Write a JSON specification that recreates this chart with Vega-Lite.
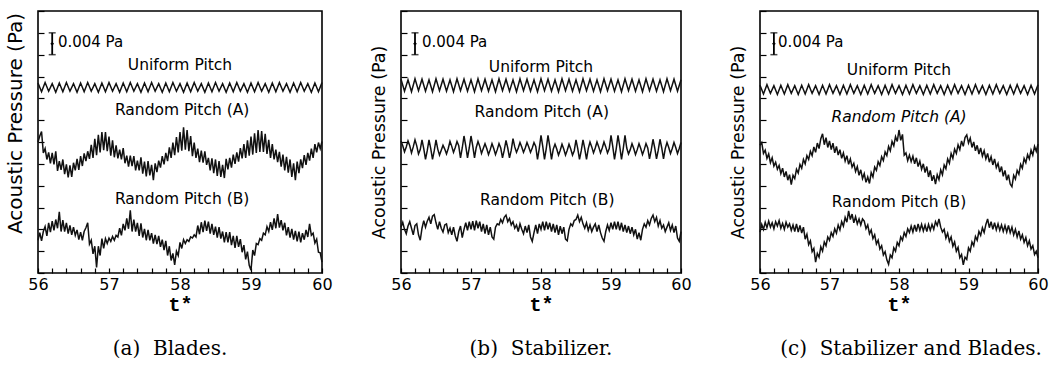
{
"$schema":"https://vega.github.io/schema/vega-lite/v6.json",
"background":"white",
"padding":{"left":4,"top":9,"right":2,"bottom":0},
"spacing":79,
"bounds":"flush",
"datasets":{
"uni":[
{"t":56,"au":34.8,"bu":35.5,"cu":34.4},{"t":56.05,"au":33.2,"bu":33.3,"cu":32.8},{"t":56.1,"au":34.9,"bu":35.4,"cu":34.5},{"t":56.15,"au":33.3,"bu":33.2,"cu":32.9},{"t":56.2,"au":34.7,"bu":35.6,"cu":34.3},{"t":56.25,"au":33.1,"bu":33.4,"cu":32.7},
{"t":56.3,"au":34.8,"bu":35.5,"cu":34.4},{"t":56.35,"au":33.2,"bu":33.3,"cu":32.8},{"t":56.4,"au":34.9,"bu":35.4,"cu":34.5},{"t":56.45,"au":33.3,"bu":33.2,"cu":32.9},{"t":56.5,"au":34.7,"bu":35.6,"cu":34.3},{"t":56.55,"au":33.1,"bu":33.4,"cu":32.7},
{"t":56.6,"au":34.8,"bu":35.5,"cu":34.4},{"t":56.65,"au":33.2,"bu":33.3,"cu":32.8},{"t":56.7,"au":34.9,"bu":35.4,"cu":34.5},{"t":56.75,"au":33.3,"bu":33.2,"cu":32.9},{"t":56.8,"au":34.7,"bu":35.6,"cu":34.3},{"t":56.85,"au":33.1,"bu":33.4,"cu":32.7},
{"t":56.9,"au":34.8,"bu":35.5,"cu":34.4},{"t":56.95,"au":33.2,"bu":33.3,"cu":32.8},{"t":57,"au":34.9,"bu":35.4,"cu":34.5},{"t":57.05,"au":33.3,"bu":33.2,"cu":32.9},{"t":57.1,"au":34.7,"bu":35.6,"cu":34.3},{"t":57.15,"au":33.1,"bu":33.4,"cu":32.7},
{"t":57.2,"au":34.8,"bu":35.5,"cu":34.4},{"t":57.25,"au":33.2,"bu":33.3,"cu":32.8},{"t":57.3,"au":34.9,"bu":35.4,"cu":34.5},{"t":57.35,"au":33.3,"bu":33.2,"cu":32.9},{"t":57.4,"au":34.7,"bu":35.6,"cu":34.3},{"t":57.45,"au":33.1,"bu":33.4,"cu":32.7},
{"t":57.5,"au":34.8,"bu":35.5,"cu":34.4},{"t":57.55,"au":33.2,"bu":33.3,"cu":32.8},{"t":57.6,"au":34.9,"bu":35.4,"cu":34.5},{"t":57.65,"au":33.3,"bu":33.2,"cu":32.9},{"t":57.7,"au":34.7,"bu":35.6,"cu":34.3},{"t":57.75,"au":33.1,"bu":33.4,"cu":32.7},
{"t":57.8,"au":34.8,"bu":35.5,"cu":34.4},{"t":57.85,"au":33.2,"bu":33.3,"cu":32.8},{"t":57.9,"au":34.9,"bu":35.4,"cu":34.5},{"t":57.95,"au":33.3,"bu":33.2,"cu":32.9},{"t":58,"au":34.7,"bu":35.6,"cu":34.3},{"t":58.05,"au":33.1,"bu":33.4,"cu":32.7},
{"t":58.1,"au":34.8,"bu":35.5,"cu":34.4},{"t":58.15,"au":33.2,"bu":33.3,"cu":32.8},{"t":58.2,"au":34.9,"bu":35.4,"cu":34.5},{"t":58.25,"au":33.3,"bu":33.2,"cu":32.9},{"t":58.3,"au":34.7,"bu":35.6,"cu":34.3},{"t":58.35,"au":33.1,"bu":33.4,"cu":32.7},
{"t":58.4,"au":34.8,"bu":35.5,"cu":34.4},{"t":58.45,"au":33.2,"bu":33.3,"cu":32.8},{"t":58.5,"au":34.9,"bu":35.4,"cu":34.5},{"t":58.55,"au":33.3,"bu":33.2,"cu":32.9},{"t":58.6,"au":34.7,"bu":35.6,"cu":34.3},{"t":58.65,"au":33.1,"bu":33.4,"cu":32.7},
{"t":58.7,"au":34.8,"bu":35.5,"cu":34.4},{"t":58.75,"au":33.2,"bu":33.3,"cu":32.8},{"t":58.8,"au":34.9,"bu":35.4,"cu":34.5},{"t":58.85,"au":33.3,"bu":33.2,"cu":32.9},{"t":58.9,"au":34.7,"bu":35.6,"cu":34.3},{"t":58.95,"au":33.1,"bu":33.4,"cu":32.7},
{"t":59,"au":34.8,"bu":35.5,"cu":34.4},{"t":59.05,"au":33.2,"bu":33.3,"cu":32.8},{"t":59.1,"au":34.9,"bu":35.4,"cu":34.5},{"t":59.15,"au":33.3,"bu":33.2,"cu":32.9},{"t":59.2,"au":34.7,"bu":35.6,"cu":34.3},{"t":59.25,"au":33.1,"bu":33.4,"cu":32.7},
{"t":59.3,"au":34.8,"bu":35.5,"cu":34.4},{"t":59.35,"au":33.2,"bu":33.3,"cu":32.8},{"t":59.4,"au":34.9,"bu":35.4,"cu":34.5},{"t":59.45,"au":33.3,"bu":33.2,"cu":32.9},{"t":59.5,"au":34.7,"bu":35.6,"cu":34.3},{"t":59.55,"au":33.1,"bu":33.4,"cu":32.7},
{"t":59.6,"au":34.8,"bu":35.5,"cu":34.4},{"t":59.65,"au":33.2,"bu":33.3,"cu":32.8},{"t":59.7,"au":34.9,"bu":35.4,"cu":34.5},{"t":59.75,"au":33.3,"bu":33.2,"cu":32.9},{"t":59.8,"au":34.7,"bu":35.6,"cu":34.3},{"t":59.85,"au":33.1,"bu":33.4,"cu":32.7},
{"t":59.9,"au":34.8,"bu":35.5,"cu":34.4},{"t":59.95,"au":33.2,"bu":33.3,"cu":32.8},{"t":60,"au":34.9,"bu":35.4,"cu":34.5}
],
"rnd":[
{"t":56,"aA":24.0,"aB":6.0,"bA":24.2,"bB":8.4,"cA":23.4,"cB":7.5},
{"t":56.025,"aA":25.1,"aB":7.4,"bA":23.3,"bB":9.3,"cA":23.9,"cB":8.9},
{"t":56.05,"aA":25.9,"aB":5.9,"bA":22.2,"bB":8.0,"cA":21.9,"cB":8.0},
{"t":56.075,"aA":22.0,"aB":7.6,"bA":23.1,"bB":7.2,"cA":22.5,"cB":9.3},
{"t":56.1,"aA":22.8,"aB":8.5,"bA":24.2,"bB":8.6,"cA":21.0,"cB":8.3},
{"t":56.125,"aA":20.8,"aB":6.8,"bA":23.3,"bB":9.4,"cA":21.8,"cB":9.5},
{"t":56.15,"aA":22.1,"aB":9.2,"bA":22.0,"bB":8.2,"cA":20.2,"cB":8.4},
{"t":56.175,"aA":20.1,"aB":7.5,"bA":23.1,"bB":7.0,"cA":21.1,"cB":9.2},
{"t":56.2,"aA":22.0,"aB":9.5,"bA":24.4,"bB":8.7,"cA":19.6,"cB":8.1},
{"t":56.225,"aA":19.9,"aB":7.8,"bA":23.3,"bB":9.0,"cA":20.3,"cB":9.4},
{"t":56.25,"aA":22.3,"aB":9.8,"bA":21.8,"bB":7.0,"cA":19.0,"cB":8.6},
{"t":56.275,"aA":18.7,"aB":8.2,"bA":22.6,"bB":6.0,"cA":19.7,"cB":9.6},
{"t":56.3,"aA":20.5,"aB":11.2,"bA":24.4,"bB":8.2,"cA":18.2,"cB":8.2},
{"t":56.325,"aA":18.9,"aB":7.6,"bA":22.8,"bB":9.6,"cA":19.2,"cB":9.1},
{"t":56.35,"aA":20.8,"aB":9.7,"bA":20.8,"bB":8.4,"cA":17.6,"cB":8.0},
{"t":56.375,"aA":18.1,"aB":7.6,"bA":22.4,"bB":9.5,"cA":18.6,"cB":9.3},
{"t":56.4,"aA":19.9,"aB":9.2,"bA":24.4,"bB":10.2,"cA":17.0,"cB":8.4},
{"t":56.425,"aA":17.5,"aB":7.2,"bA":22.8,"bB":9.0,"cA":18.0,"cB":9.0},
{"t":56.45,"aA":19.7,"aB":8.7,"bA":20.8,"bB":10.4,"cA":16.2,"cB":7.8},
{"t":56.475,"aA":17.6,"aB":7.0,"bA":22.4,"bB":10.7,"cA":17.9,"cB":8.8},
{"t":56.5,"aA":20.2,"aB":8.4,"bA":24.4,"bB":9.2,"cA":17.3,"cB":7.6},
{"t":56.525,"aA":18.8,"aB":6.9,"bA":22.7,"bB":8.0,"cA":19.0,"cB":9.0},
{"t":56.55,"aA":20.9,"aB":7.9,"bA":21.6,"bB":9.4,"cA":18.3,"cB":7.5},
{"t":56.575,"aA":18.9,"aB":6.1,"bA":22.5,"bB":8.2,"cA":19.9,"cB":8.7},
{"t":56.6,"aA":21.4,"aB":7.5,"bA":23.4,"bB":7.5,"cA":19.2,"cB":7.3},
{"t":56.625,"aA":19.6,"aB":6.0,"bA":22.7,"bB":8.8,"cA":20.8,"cB":8.4},
{"t":56.65,"aA":21.9,"aB":7.6,"bA":21.8,"bB":9.0,"cA":20.0,"cB":6.2},
{"t":56.675,"aA":20.5,"aB":8.3,"bA":22.8,"bB":7.4,"cA":21.5,"cB":7.1},
{"t":56.7,"aA":22.3,"aB":9.2,"bA":24.1,"bB":8.2,"cA":20.8,"cB":5.2},
{"t":56.725,"aA":20.9,"aB":5.3,"bA":23.2,"bB":7.0,"cA":22.3,"cB":5.9},
{"t":56.75,"aA":23.5,"aB":6.0,"bA":22.1,"bB":8.4,"cA":21.5,"cB":3.9},
{"t":56.775,"aA":21.1,"aB":3.5,"bA":23.0,"bB":6.8,"cA":23.1,"cB":4.5},
{"t":56.8,"aA":24.6,"aB":4.9,"bA":24.1,"bB":5.8,"cA":22.1,"cB":2.0},
{"t":56.825,"aA":21.6,"aB":1.0,"bA":23.3,"bB":7.6,"cA":23.8,"cB":3.6},
{"t":56.85,"aA":25.3,"aB":4.9,"bA":21.1,"bB":8.6,"cA":22.8,"cB":2.9},
{"t":56.875,"aA":22.1,"aB":3.2,"bA":22.9,"bB":6.5,"cA":24.6,"cB":4.8},
{"t":56.9,"aA":25.8,"aB":6.3,"bA":25.1,"bB":8.0,"cA":25.5,"cB":4.0},
{"t":56.925,"aA":22.5,"aB":4.5,"bA":23.3,"bB":9.2,"cA":23.5,"cB":5.7},
{"t":56.95,"aA":25.8,"aB":6.3,"bA":21.1,"bB":7.8,"cA":24.8,"cB":5.0},
{"t":56.975,"aA":22.3,"aB":5.4,"bA":22.9,"bB":9.4,"cA":23.0,"cB":6.6},
{"t":57,"aA":25.0,"aB":6.4,"bA":25.1,"bB":8.0,"cA":24.2,"cB":6.0},
{"t":57.025,"aA":21.5,"aB":5.8,"bA":23.3,"bB":9.5,"cA":22.6,"cB":7.4},
{"t":57.05,"aA":24.3,"aB":6.7,"bA":21.1,"bB":7.8,"cA":23.8,"cB":6.7},
{"t":57.075,"aA":21.2,"aB":6.0,"bA":23.0,"bB":9.6,"cA":22.0,"cB":8.1},
{"t":57.1,"aA":23.4,"aB":6.9,"bA":24.1,"bB":8.2,"cA":23.2,"cB":7.3},
{"t":57.125,"aA":21.0,"aB":6.6,"bA":23.2,"bB":9.4,"cA":21.6,"cB":8.8},
{"t":57.15,"aA":22.6,"aB":8.2,"bA":21.9,"bB":7.6,"cA":22.6,"cB":7.9},
{"t":57.175,"aA":20.8,"aB":6.9,"bA":22.8,"bB":9.0,"cA":21.0,"cB":9.4},
{"t":57.2,"aA":22.9,"aB":9.0,"bA":23.7,"bB":7.2,"cA":22.0,"cB":8.6},
{"t":57.225,"aA":20.1,"aB":7.8,"bA":22.8,"bB":8.8,"cA":20.5,"cB":10.2},
{"t":57.25,"aA":21.5,"aB":10.0,"bA":21.7,"bB":7.0,"cA":21.5,"cB":9.3},
{"t":57.275,"aA":19.5,"aB":8.1,"bA":22.6,"bB":8.4,"cA":19.9,"cB":11.4},
{"t":57.3,"aA":21.5,"aB":11.5,"bA":23.7,"bB":6.6,"cA":20.9,"cB":9.8},
{"t":57.325,"aA":19.6,"aB":7.6,"bA":22.8,"bB":6.2,"cA":19.4,"cB":10.8},
{"t":57.35,"aA":21.4,"aB":9.8,"bA":21.7,"bB":8.4,"cA":20.1,"cB":9.2},
{"t":57.375,"aA":18.8,"aB":7.6,"bA":22.6,"bB":9.0,"cA":18.6,"cB":10.3},
{"t":57.4,"aA":20.6,"aB":9.2,"bA":23.7,"bB":8.8,"cA":19.5,"cB":9.0},
{"t":57.425,"aA":18.8,"aB":6.8,"bA":22.9,"bB":9.8,"cA":17.9,"cB":9.9},
{"t":57.45,"aA":21.2,"aB":9.1,"bA":21.1,"bB":9.2,"cA":18.9,"cB":8.8},
{"t":57.475,"aA":18.2,"aB":6.5,"bA":22.5,"bB":10.2,"cA":17.3,"cB":9.9},
{"t":57.5,"aA":20.4,"aB":8.1,"bA":24.3,"bB":10.6,"cA":18.2,"cB":9.5},
{"t":57.525,"aA":17.7,"aB":6.0,"bA":22.9,"bB":9.4,"cA":16.6,"cB":8.1},
{"t":57.55,"aA":20.5,"aB":7.9,"bA":21.1,"bB":10.0,"cA":17.6,"cB":8.8},
{"t":57.575,"aA":17.9,"aB":6.0,"bA":22.5,"bB":8.8,"cA":16.4,"cB":7.2},
{"t":57.6,"aA":19.8,"aB":7.3,"bA":24.6,"bB":9.4,"cA":18.4,"cB":7.9},
{"t":57.625,"aA":17.0,"aB":5.4,"bA":23.1,"bB":8.2,"cA":17.6,"cB":6.3},
{"t":57.65,"aA":20.1,"aB":7.0,"bA":22.1,"bB":8.8,"cA":19.4,"cB":7.0},
{"t":57.675,"aA":18.5,"aB":5.3,"bA":22.9,"bB":7.6,"cA":18.8,"cB":5.3},
{"t":57.7,"aA":20.6,"aB":6.8,"bA":23.9,"bB":9.0,"cA":20.4,"cB":6.0},
{"t":57.725,"aA":19.3,"aB":4.8,"bA":23.1,"bB":8.0,"cA":19.7,"cB":4.4},
{"t":57.75,"aA":21.4,"aB":6.1,"bA":22.1,"bB":7.2,"cA":21.3,"cB":5.0},
{"t":57.775,"aA":19.9,"aB":4.2,"bA":22.9,"bB":8.6,"cA":20.6,"cB":3.3},
{"t":57.8,"aA":22.0,"aB":5.9,"bA":23.9,"bB":7.4,"cA":22.2,"cB":3.9},
{"t":57.825,"aA":20.5,"aB":3.2,"bA":23.1,"bB":8.8,"cA":21.5,"cB":2.4},
{"t":57.85,"aA":23.0,"aB":4.9,"bA":22.1,"bB":6.6,"cA":23.2,"cB":1.6},
{"t":57.875,"aA":21.1,"aB":2.3,"bA":22.9,"bB":5.8,"cA":22.4,"cB":3.3},
{"t":57.9,"aA":23.9,"aB":3.6,"bA":23.9,"bB":7.4,"cA":24.1,"cB":2.8},
{"t":57.925,"aA":21.6,"aB":1.5,"bA":23.2,"bB":8.8,"cA":23.3,"cB":4.6},
{"t":57.95,"aA":24.9,"aB":4.0,"bA":20.8,"bB":7.2,"cA":25.0,"cB":4.0},
{"t":57.975,"aA":22.1,"aB":3.2,"bA":22.8,"bB":9.0,"cA":24.1,"cB":5.6},
{"t":58,"aA":25.8,"aB":5.6,"bA":25.2,"bB":8.0,"cA":26.2,"cB":5.0},
{"t":58.025,"aA":22.4,"aB":4.5,"bA":23.2,"bB":9.4,"cA":24.3,"cB":6.6},
{"t":58.05,"aA":26.7,"aB":6.1,"bA":20.8,"bB":7.8,"cA":25.4,"cB":6.0},
{"t":58.075,"aA":22.6,"aB":5.4,"bA":22.8,"bB":9.4,"cA":21.6,"cB":7.4},
{"t":58.1,"aA":26.2,"aB":6.1,"bA":25.2,"bB":8.0,"cA":22.0,"cB":6.7},
{"t":58.125,"aA":22.3,"aB":5.8,"bA":23.2,"bB":9.2,"cA":20.6,"cB":8.1},
{"t":58.15,"aA":25.1,"aB":6.6,"bA":20.8,"bB":7.6,"cA":21.6,"cB":7.4},
{"t":58.175,"aA":21.4,"aB":6.4,"bA":22.7,"bB":9.0,"cA":20.4,"cB":8.6},
{"t":58.2,"aA":23.9,"aB":7.0,"bA":23.6,"bB":7.4,"cA":21.4,"cB":7.5},
{"t":58.225,"aA":21.1,"aB":6.6,"bA":22.7,"bB":8.8,"cA":20.0,"cB":8.8},
{"t":58.25,"aA":22.8,"aB":8.7,"bA":21.6,"bB":7.0,"cA":21.1,"cB":7.6},
{"t":58.275,"aA":20.3,"aB":7.1,"bA":22.5,"bB":8.6,"cA":19.5,"cB":9.0},
{"t":58.3,"aA":22.4,"aB":9.3,"bA":23.6,"bB":7.2,"cA":20.5,"cB":7.8},
{"t":58.325,"aA":20.2,"aB":7.5,"bA":22.7,"bB":8.4,"cA":19.0,"cB":8.9},
{"t":58.35,"aA":22.3,"aB":9.6,"bA":21.6,"bB":6.2,"cA":20.0,"cB":7.7},
{"t":58.375,"aA":19.8,"aB":7.7,"bA":22.5,"bB":5.9,"cA":18.4,"cB":8.8},
{"t":58.4,"aA":21.1,"aB":9.4,"bA":23.6,"bB":8.0,"cA":19.5,"cB":7.6},
{"t":58.425,"aA":18.8,"aB":7.2,"bA":22.7,"bB":9.0,"cA":17.6,"cB":8.9},
{"t":58.45,"aA":21.0,"aB":9.0,"bA":21.6,"bB":8.6,"cA":18.8,"cB":7.8},
{"t":58.475,"aA":18.3,"aB":7.0,"bA":22.4,"bB":9.6,"cA":16.9,"cB":8.9},
{"t":58.5,"aA":20.8,"aB":8.5,"bA":24.4,"bB":9.8,"cA":17.9,"cB":8.0},
{"t":58.525,"aA":17.8,"aB":6.5,"bA":22.8,"bB":10.6,"cA":16.3,"cB":9.4},
{"t":58.55,"aA":20.5,"aB":8.4,"bA":20.8,"bB":9.4,"cA":18.0,"cB":8.7},
{"t":58.575,"aA":17.6,"aB":6.3,"bA":22.4,"bB":10.2,"cA":17.1,"cB":9.9},
{"t":58.6,"aA":19.8,"aB":7.6,"bA":24.4,"bB":9.0,"cA":18.9,"cB":8.4},
{"t":58.625,"aA":17.4,"aB":5.6,"bA":22.8,"bB":8.2,"cA":18.0,"cB":7.5},
{"t":58.65,"aA":20.9,"aB":7.5,"bA":20.8,"bB":9.2,"cA":19.8,"cB":8.0},
{"t":58.675,"aA":19.0,"aB":5.6,"bA":22.8,"bB":7.8,"cA":19.1,"cB":6.4},
{"t":58.7,"aA":21.1,"aB":7.5,"bA":24.0,"bB":8.8,"cA":20.9,"cB":7.3},
{"t":58.725,"aA":19.3,"aB":5.1,"bA":23.1,"bB":7.6,"cA":20.1,"cB":5.8},
{"t":58.75,"aA":21.7,"aB":6.8,"bA":22.0,"bB":8.4,"cA":21.9,"cB":6.6},
{"t":58.775,"aA":20.0,"aB":4.6,"bA":22.9,"bB":9.0,"cA":21.0,"cB":4.9},
{"t":58.8,"aA":22.1,"aB":6.8,"bA":24.0,"bB":7.6,"cA":22.7,"cB":5.7},
{"t":58.825,"aA":20.4,"aB":4.8,"bA":23.1,"bB":8.8,"cA":21.9,"cB":4.0},
{"t":58.85,"aA":22.9,"aB":6.2,"bA":22.0,"bB":7.4,"cA":23.5,"cB":4.7},
{"t":58.875,"aA":21.0,"aB":3.8,"bA":22.9,"bB":6.4,"cA":22.6,"cB":2.8},
{"t":58.9,"aA":23.6,"aB":5.1,"bA":24.0,"bB":5.8,"cA":24.2,"cB":3.4},
{"t":58.925,"aA":21.1,"aB":2.5,"bA":23.1,"bB":7.6,"cA":23.2,"cB":1.5},
{"t":58.95,"aA":24.3,"aB":3.9,"bA":22.0,"bB":8.8,"cA":24.8,"cB":2.9},
{"t":58.975,"aA":21.5,"aB":1.4,"bA":22.8,"bB":7.8,"cA":25.3,"cB":2.5},
{"t":59,"aA":25.0,"aB":0.5,"bA":25.2,"bB":9.2,"cA":23.8,"cB":4.6},
{"t":59.025,"aA":21.7,"aB":4.2,"bA":23.2,"bB":8.0,"cA":24.7,"cB":4.0},
{"t":59.05,"aA":25.6,"aB":3.2,"bA":20.8,"bB":9.4,"cA":23.0,"cB":5.7},
{"t":59.075,"aA":22.0,"aB":5.4,"bA":22.8,"bB":8.0,"cA":24.0,"cB":5.0},
{"t":59.1,"aA":26.2,"aB":5.2,"bA":25.2,"bB":9.4,"cA":22.4,"cB":6.7},
{"t":59.125,"aA":22.2,"aB":6.3,"bA":23.2,"bB":7.8,"cA":23.4,"cB":6.0},
{"t":59.15,"aA":26.0,"aB":6.0,"bA":20.8,"bB":9.2,"cA":21.8,"cB":7.6},
{"t":59.175,"aA":22.2,"aB":7.3,"bA":22.8,"bB":7.6,"cA":22.9,"cB":6.9},
{"t":59.2,"aA":25.5,"aB":7.0,"bA":25.2,"bB":8.8,"cA":21.4,"cB":8.3},
{"t":59.225,"aA":21.8,"aB":8.5,"bA":22.9,"bB":7.4,"cA":22.4,"cB":7.4},
{"t":59.25,"aA":24.4,"aB":7.6,"bA":21.8,"bB":8.6,"cA":20.9,"cB":8.9},
{"t":59.275,"aA":21.1,"aB":9.3,"bA":22.6,"bB":7.2,"cA":21.9,"cB":9.9},
{"t":59.3,"aA":23.6,"aB":7.9,"bA":23.7,"bB":8.4,"cA":20.3,"cB":8.3},
{"t":59.325,"aA":20.8,"aB":10.0,"bA":22.8,"bB":7.0,"cA":21.3,"cB":9.4},
{"t":59.35,"aA":22.6,"aB":8.2,"bA":21.7,"bB":8.0,"cA":19.8,"cB":8.0},
{"t":59.375,"aA":20.3,"aB":10.8,"bA":22.6,"bB":6.2,"cA":20.9,"cB":9.2},
{"t":59.4,"aA":22.2,"aB":8.3,"bA":23.7,"bB":7.4,"cA":19.3,"cB":7.9},
{"t":59.425,"aA":19.5,"aB":9.7,"bA":22.8,"bB":6.0,"cA":20.1,"cB":9.0},
{"t":59.45,"aA":21.7,"aB":7.8,"bA":21.7,"bB":8.0,"cA":18.5,"cB":7.8},
{"t":59.475,"aA":18.8,"aB":9.2,"bA":22.6,"bB":9.0,"cA":19.5,"cB":8.8},
{"t":59.5,"aA":21.3,"aB":6.9,"bA":23.7,"bB":8.4,"cA":17.7,"cB":7.6},
{"t":59.525,"aA":18.4,"aB":8.4,"bA":22.9,"bB":9.6,"cA":18.8,"cB":8.7},
{"t":59.55,"aA":20.8,"aB":6.5,"bA":20.9,"bB":8.8,"cA":17.0,"cB":7.5},
{"t":59.575,"aA":17.6,"aB":8.1,"bA":22.5,"bB":10.0,"cA":18.0,"cB":8.7},
{"t":59.6,"aA":20.1,"aB":6.1,"bA":24.5,"bB":10.6,"cA":16.3,"cB":7.4},
{"t":59.625,"aA":17.0,"aB":7.7,"bA":22.9,"bB":9.4,"cA":15.8,"cB":8.4},
{"t":59.65,"aA":20.4,"aB":5.8,"bA":20.9,"bB":10.2,"cA":17.9,"cB":7.0},
{"t":59.675,"aA":18.3,"aB":7.6,"bA":22.5,"bB":8.6,"cA":17.2,"cB":8.0},
{"t":59.7,"aA":20.8,"aB":5.6,"bA":24.5,"bB":9.6,"cA":18.8,"cB":6.6},
{"t":59.725,"aA":19.2,"aB":7.3,"bA":22.9,"bB":8.2,"cA":18.1,"cB":7.7},
{"t":59.75,"aA":21.6,"aB":6.1,"bA":20.9,"bB":8.8,"cA":19.9,"cB":6.2},
{"t":59.775,"aA":19.8,"aB":7.9,"bA":22.8,"bB":7.6,"cA":19.2,"cB":7.0},
{"t":59.8,"aA":22.0,"aB":6.6,"bA":23.9,"bB":8.4,"cA":21.0,"cB":5.6},
{"t":59.825,"aA":20.6,"aB":9.0,"bA":23.0,"bB":9.2,"cA":20.2,"cB":6.5},
{"t":59.85,"aA":22.8,"aB":6.9,"bA":21.9,"bB":7.8,"cA":21.7,"cB":5.0},
{"t":59.875,"aA":21.1,"aB":7.3,"bA":22.8,"bB":8.8,"cA":20.9,"cB":5.9},
{"t":59.9,"aA":23.6,"aB":5.5,"bA":23.9,"bB":7.4,"cA":22.5,"cB":4.4},
{"t":59.925,"aA":22.1,"aB":6.2,"bA":23.0,"bB":8.6,"cA":21.6,"cB":5.0},
{"t":59.95,"aA":23.9,"aB":3.8,"bA":21.9,"bB":6.4,"cA":23.2,"cB":3.4},
{"t":59.975,"aA":22.8,"aB":3.7,"bA":22.8,"bB":5.8,"cA":22.3,"cB":4.0},
{"t":60,"aA":24.1,"aB":2.0,"bA":23.9,"bB":7.6,"cA":23.6,"cB":2.8}
]
},
"config":{
"font":"DejaVu Sans",
"view":{"stroke":"black","strokeWidth":1.6},
"axis":{"grid":false,"domain":false,"tickColor":"black","tickWidth":1.2,"labelColor":"black","titleColor":"black"},
"axisX":{"tickSize":-5,"labelPadding":8,"labelFont":"DejaVu Sans","labelFontSize":16,"labelFlush":false,"labelOverlap":false,"format":"d","titleFont":"Liberation Mono","titleFontSize":20,"titleFontWeight":"bold","titlePadding":2},
"axisY":{"tickSize":-6,"labels":false,"titleFont":"DejaVu Sans","titleFontSize":17.5,"titleFontWeight":"normal","titlePadding":12},
"title":{"font":"DejaVu Serif","fontSize":20,"fontWeight":"normal","color":"black","orient":"bottom","frame":"group","anchor":"middle","offset":25}
},
"hconcat":[
{
"width":284,"height":262,
"title":{"text":"(a)\u00a0\u00a0Blades.","dx":-10},
"encoding":{
"x":{"field":"t","type":"quantitative","scale":{"domain":[56,60],"nice":false},"axis":{"values":[56,56.2,56.4,56.6,56.8,57,57.2,57.4,57.6,57.8,58,58.2,58.4,58.6,58.8,59,59.2,59.4,59.6,59.8,60],"labelExpr":"datum.value % 1 === 0 ? datum.label : ''","title":"t*"}},
"y":{"field":"v","type":"quantitative","scale":{"domain":[0,48],"nice":false,"zero":false},"axis":{"values":[0,4,8,12,16,20,24,28,32,36,40,44,48],"title":"Acoustic Pressure (Pa)","titleFontSize":20,"titleY":112}}
},
"layer":[
{"data":{"name":"uni"},"transform":[{"fold":["au"],"as":["s","v"]}],"mark":{"type":"line","color":"#111","strokeWidth":1.5},"encoding":{"detail":{"field":"s"}}},
{"data":{"name":"rnd"},"transform":[{"fold":["aA","aB"],"as":["s","v"]}],"mark":{"type":"line","color":"#111","strokeWidth":1.5},"encoding":{"detail":{"field":"s"}}},
{"data":{"values":[{"t":56.2,"v":40,"v2":44}]},"mark":{"type":"rule","color":"black","strokeWidth":1.8},"encoding":{"y2":{"field":"v2"}}},
{"data":{"values":[{"t":56.2,"v":40},{"t":56.2,"v":44}]},"mark":{"type":"tick","orient":"horizontal","color":"black","size":7,"thickness":1.5}},
{"data":{"values":[{"t":56.2,"v":42}]},"mark":{"type":"point","shape":"diamond","filled":true,"color":"black","size":14,"opacity":1}},
{"data":{"values":[{"t":58,"v":38.1,"txt":"Uniform Pitch"},{"t":58.03,"v":29.9,"txt":"Random Pitch (A)"},{"t":58.03,"v":13.6,"txt":"Random Pitch (B)"}]},"mark":{"type":"text","font":"DejaVu Sans","fontSize":15.5,"color":"black"},"encoding":{"text":{"field":"txt"}}},
{"data":{"values":[{"t":56.28,"v":42.4,"txt":"0.004 Pa"}]},"mark":{"type":"text","font":"DejaVu Sans","fontSize":15,"color":"black","align":"left"},"encoding":{"text":{"field":"txt"}}}
]
},
{
"width":280,"height":262,
"title":{"text":"(b)\u00a0\u00a0Stabilizer.","dx":0},
"encoding":{
"x":{"field":"t","type":"quantitative","scale":{"domain":[56,60],"nice":false},"axis":{"values":[56,56.2,56.4,56.6,56.8,57,57.2,57.4,57.6,57.8,58,58.2,58.4,58.6,58.8,59,59.2,59.4,59.6,59.8,60],"labelExpr":"datum.value % 1 === 0 ? datum.label : ''","title":"t*"}},
"y":{"field":"v","type":"quantitative","scale":{"domain":[0,48],"nice":false,"zero":false},"axis":{"values":[0,4,8,12,16,20,24,28,32,36,40,44,48],"title":"Acoustic Pressure (Pa)"}}
},
"layer":[
{"data":{"name":"uni"},"transform":[{"fold":["bu"],"as":["s","v"]}],"mark":{"type":"line","color":"#111","strokeWidth":1.5},"encoding":{"detail":{"field":"s"}}},
{"data":{"name":"rnd"},"transform":[{"fold":["bA","bB"],"as":["s","v"]}],"mark":{"type":"line","color":"#111","strokeWidth":1.5},"encoding":{"detail":{"field":"s"}}},
{"data":{"values":[{"t":56.2,"v":40,"v2":44}]},"mark":{"type":"rule","color":"black","strokeWidth":1.8},"encoding":{"y2":{"field":"v2"}}},
{"data":{"values":[{"t":56.2,"v":40},{"t":56.2,"v":44}]},"mark":{"type":"tick","orient":"horizontal","color":"black","size":7,"thickness":1.5}},
{"data":{"values":[{"t":56.2,"v":42}]},"mark":{"type":"point","shape":"diamond","filled":true,"color":"black","size":14,"opacity":1}},
{"data":{"values":[{"t":58,"v":37.7,"txt":"Uniform Pitch"},{"t":58.01,"v":29.5,"txt":"Random Pitch (A)"},{"t":58.09,"v":13.4,"txt":"Random Pitch (B)"}]},"mark":{"type":"text","font":"DejaVu Sans","fontSize":15.5,"color":"black"},"encoding":{"text":{"field":"txt"}}},
{"data":{"values":[{"t":56.3,"v":42.4,"txt":"0.004 Pa"}]},"mark":{"type":"text","font":"DejaVu Sans","fontSize":15,"color":"black","align":"left"},"encoding":{"text":{"field":"txt"}}}
]
},
{
"width":278,"height":262,
"title":{"text":"(c)\u00a0\u00a0Stabilizer and Blades.","dx":12},
"encoding":{
"x":{"field":"t","type":"quantitative","scale":{"domain":[56,60],"nice":false},"axis":{"values":[56,56.2,56.4,56.6,56.8,57,57.2,57.4,57.6,57.8,58,58.2,58.4,58.6,58.8,59,59.2,59.4,59.6,59.8,60],"labelExpr":"datum.value % 1 === 0 ? datum.label : ''","title":"t*"}},
"y":{"field":"v","type":"quantitative","scale":{"domain":[0,48],"nice":false,"zero":false},"axis":{"values":[0,4,8,12,16,20,24,28,32,36,40,44,48],"title":"Acoustic Pressure (Pa)"}}
},
"layer":[
{"data":{"name":"uni"},"transform":[{"fold":["cu"],"as":["s","v"]}],"mark":{"type":"line","color":"#111","strokeWidth":1.5},"encoding":{"detail":{"field":"s"}}},
{"data":{"name":"rnd"},"transform":[{"fold":["cA","cB"],"as":["s","v"]}],"mark":{"type":"line","color":"#111","strokeWidth":1.5},"encoding":{"detail":{"field":"s"}}},
{"data":{"values":[{"t":56.2,"v":40,"v2":44}]},"mark":{"type":"rule","color":"black","strokeWidth":1.8},"encoding":{"y2":{"field":"v2"}}},
{"data":{"values":[{"t":56.2,"v":40},{"t":56.2,"v":44}]},"mark":{"type":"tick","orient":"horizontal","color":"black","size":7,"thickness":1.5}},
{"data":{"values":[{"t":56.2,"v":42}]},"mark":{"type":"point","shape":"diamond","filled":true,"color":"black","size":14,"opacity":1}},
{"data":{"values":[{"t":58,"v":37.2,"txt":"Uniform Pitch"},{"t":58,"v":13.0,"txt":"Random Pitch (B)"}]},"mark":{"type":"text","font":"DejaVu Sans","fontSize":15.5,"color":"black"},"encoding":{"text":{"field":"txt"}}},
{"data":{"values":[{"t":58,"v":28.6,"txt":"Random Pitch (A)"}]},"mark":{"type":"text","font":"DejaVu Sans","fontSize":15.5,"fontStyle":"italic","color":"black"},"encoding":{"text":{"field":"txt"}}},
{"data":{"values":[{"t":56.26,"v":42.4,"txt":"0.004 Pa"}]},"mark":{"type":"text","font":"DejaVu Sans","fontSize":15,"color":"black","align":"left"},"encoding":{"text":{"field":"txt"}}}
]
}
]
}
